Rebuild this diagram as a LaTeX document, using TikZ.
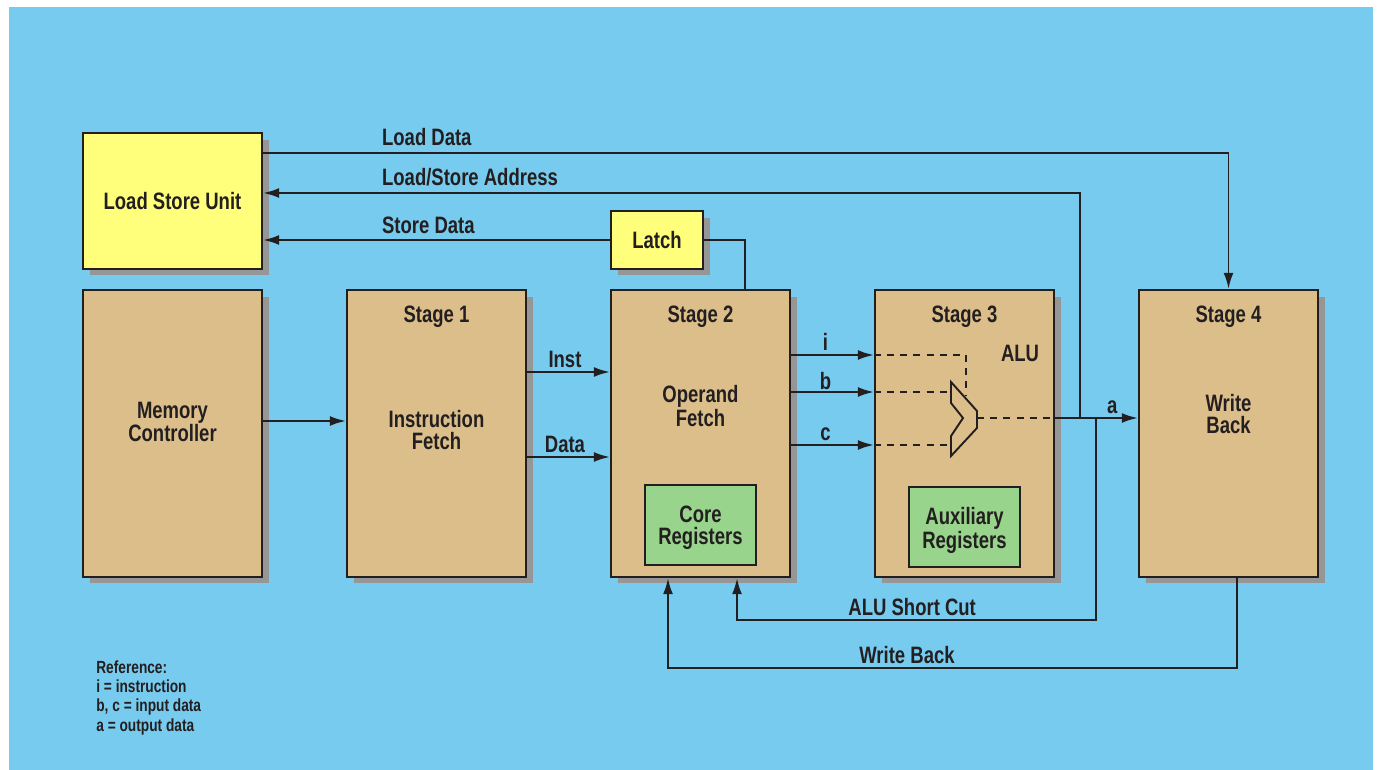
\documentclass[tikz,border=0pt]{standalone}
\usepackage{xcolor}
\usepackage{fontspec}
\setmainfont{Liberation Sans}[FakeStretch=0.78]
\usetikzlibrary{arrows.meta,shadows,calc,positioning}

\definecolor{bgblue}{HTML}{77CBEF}
\definecolor{ink}{HTML}{231F20}
\definecolor{tanfill}{HTML}{DCBE8A}
\definecolor{lsuyellow}{HTML}{FFFF7C}
\definecolor{reggreen}{HTML}{98D48C}
\definecolor{shadowgray}{HTML}{969696}

\tikzset{
  plainbox/.style={draw=ink, line width=1.4pt, inner sep=0pt, text=ink,
    font=\fontsize{13.5}{12.5}\selectfont\bfseries, align=center},
  box/.style={plainbox,
    drop shadow={shadow xshift=1.4mm, shadow yshift=-1.3mm, fill=shadowgray, opacity=1}},
  stagebox/.style={box, fill=tanfill, minimum width=3.58cm, minimum height=5.74cm},
  lsubox/.style={box, fill=lsuyellow},
  regbox/.style={plainbox, fill=reggreen, minimum width=2.22cm, minimum height=1.6cm},
  lbl/.style={text=ink, font=\fontsize{13.5}{12.5}\selectfont\bfseries, align=center, inner sep=1pt},
  conn/.style={draw=ink, line width=1.1pt},
  arr/.style={conn, -{Latex[length=3.2mm,width=2mm]}},
  dsh/.style={conn, dash pattern=on 4pt off 3.5pt}
}

\begin{document}
\begin{tikzpicture}[x=0.02cm, y=-0.02cm]
  \useasboundingbox (0,0) rectangle (1379,770);
  \fill[bgblue] (9,7) rectangle (1373,770);

  % levels of the connectors
  \coordinate (yld) at (0,153);
  \coordinate (ylsa) at (0,193);
  \coordinate (ymem) at (0,421);
  \coordinate (yinst) at (0,372);
  \coordinate (ydata) at (0,457);
  \coordinate (yi) at (0,355);
  \coordinate (yb) at (0,392);
  \coordinate (yc) at (0,445);
  \coordinate (ya) at (0,418);
  \coordinate (ysc) at (0,620);
  \coordinate (ywb) at (0,668);
  \coordinate (xlsa) at (1080,0);
  \coordinate (xsc) at (1096,0);
  \coordinate (xsc2) at (737,0);
  \coordinate (xwb) at (668,0);
  \coordinate (xwb4) at (1237,0);
  \coordinate (xlatch) at (745,0);

  % boxes
  \node[lsubox, minimum width=3.58cm, minimum height=2.72cm] (lsu) at (172.5,201) {Load Store Unit};
  \node[lsubox, minimum width=1.84cm, minimum height=1.16cm] (latch) at (657,240) {Latch};
  \node[stagebox] (mc) at (172.5,433.5) {};
  \node[stagebox] (s1) at (436.5,433.5) {};
  \node[stagebox] (s2) at (700.5,433.5) {};
  \node[stagebox] (s3) at (964.5,433.5) {};
  \node[stagebox] (s4) at (1228.5,433.5) {};
  \node[regbox] (core) at (700.5,525) {};
  \node[regbox] (aux) at (964.5,527) {};

  % texts in the boxes
  \node[lbl] at (172.5,422) {Memory\\Controller};
  \node[lbl] at ($(s1.north)+(0,28)$) {Stage 1};
  \node[lbl] at ($(s2.north)+(0,28)$) {Stage 2};
  \node[lbl] at ($(s3.north)+(0,28)$) {Stage 3};
  \node[lbl] at ($(s4.north)+(0,28)$) {Stage 4};
  \node[lbl] at (436.5,430) {Instruction\\Fetch};
  \node[lbl] at (700.5,406) {Operand\\Fetch};
  \node[lbl] at (1020,353) {ALU};
  \node[lbl] at (1228.5,414) {Write\\Back};
  \node[lbl] at ($(core)+(0,3)$) {Core\\Registers};
  \node[lbl] at ($(aux)+(0,3)$) {Auxiliary\\Registers};

  % ALU
  \coordinate (alui) at (966,395);
  \coordinate (alub) at (951,392);
  \coordinate (aluc) at (951,445);
  \coordinate (aluo) at (977,418);
  \draw[conn] (951,382) -- (951,403) -- (963,418) -- (951,436) -- (951,456)
    -- (977,428) -- (977,411) -- cycle;
  \draw[dsh] (s3.west |- yi) -| (alui);
  \draw[dsh] (s3.west |- yb) -- (alub);
  \draw[dsh] (s3.west |- yc) -- (aluc);
  \draw[dsh] (aluo) -- (s3.east |- aluo);

  % connectors
  \draw[arr] (lsu.east |- yld) -| (s4.north);
  \draw[arr] (xlsa |- ya) |- (lsu.east |- ylsa);
  \draw[arr] (latch.west) -- (lsu.east |- latch.west);
  \draw[conn] (latch.east) -| (xlatch |- s2.north);
  \node[lbl, anchor=west] at (380,137) {Load Data};
  \node[lbl, anchor=west] at (380,177) {Load/Store Address};
  \node[lbl, anchor=west] at (380,225) {Store Data};

  \draw[arr] (mc.east |- ymem) -- (s1.west |- ymem);
  \draw[arr] (s1.east |- yinst) -- (s2.west |- yinst) node[lbl, midway, above=1pt, xshift=-2]{Inst};
  \draw[arr] (s1.east |- ydata) -- (s2.west |- ydata) node[lbl, midway, above=1pt, xshift=-2]{Data};
  \draw[arr] (s2.east |- yi) -- (s3.west |- yi) node[lbl, midway, above=1pt, xshift=-4]{i};
  \draw[arr] (s2.east |- yb) -- (s3.west |- yb) node[lbl, midway, above=0pt, xshift=-4]{b};
  \draw[arr] (s2.east |- yc) -- (s3.west |- yc) node[lbl, midway, above=1pt, xshift=-4]{c};
  \draw[arr] (s3.east |- ya) -- (s4.west |- ya) node[lbl, pos=0.69, above=1pt]{a};

  \draw[arr] (xsc |- ya) |- node[lbl, pos=0.756, above=1pt]{ALU Short Cut} (xsc2 |- ysc) -- (xsc2 |- s2.south);
  \draw[arr] (xwb4 |- s4.south) |- node[lbl, pos=0.79, above=1pt]{Write Back} (xwb |- ywb) -- (xwb |- s2.south);

  % legend
  \node[text=ink, font=\fontsize{10}{11}\selectfont\bfseries, align=left, inner sep=0pt, anchor=north west]
    (legend) at (96,660) {Reference:\\i = instruction\\b, c = input data\\a = output data};
\end{tikzpicture}
\end{document}
